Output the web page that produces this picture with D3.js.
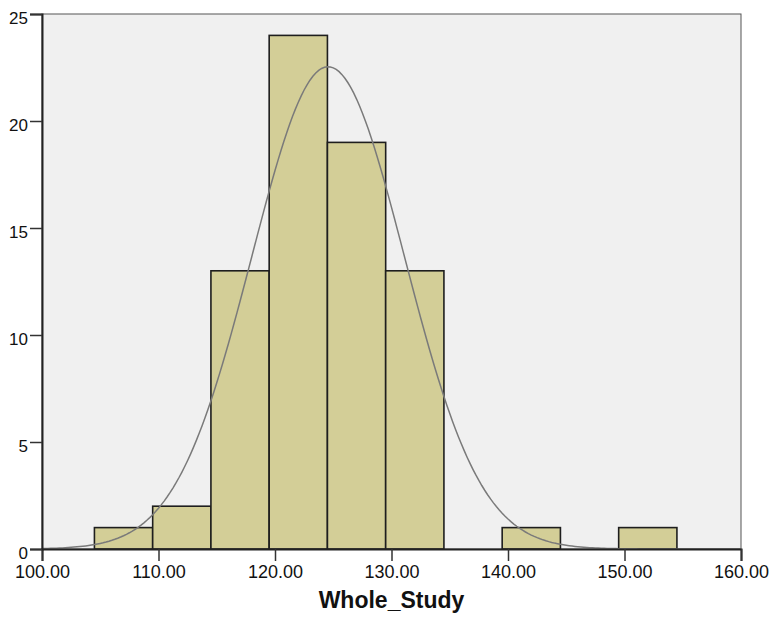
<!DOCTYPE html>
<html><head><meta charset="utf-8">
<script src="https://cdn.jsdelivr.net/npm/d3@7"></script>
<style>body{margin:0;background:#fff}svg{display:block}text{font-family:"Liberation Sans",Arial,sans-serif;fill:#111}</style>
</head><body><svg id="c" width="770" height="622"></svg>
<script>
// Histogram bins (lower edge, upper edge) and counts
const binStarts = [104.5, 109.5, 114.5, 119.5, 124.5, 129.5, 139.5, 149.5];
const binEnds   = [109.5, 114.5, 119.5, 124.5, 129.5, 134.5, 144.5, 154.5];
const counts    = [1, 2, 13, 24, 19, 13, 1, 1];
const xTicks = [100, 110, 120, 130, 140, 150, 160];
const yTicks = [0, 5, 10, 15, 20, 25];
const xLabel = "Whole_Study";
// Fitted normal curve parameters (SPSS overlay)
const fitMean = 124.56, fitSD = 6.55, fitN = 74, binWidth = 5;

const svg = d3.select("#c");
const L = 42, R = 741, T = 14, B = 549;
const x = d3.scaleLinear().domain([100, 160]).range([L, R]);
const y = d3.scaleLinear().domain([0, 25]).range([B, T]);

svg.append("rect").attr("x", L).attr("y", T).attr("width", R - L).attr("height", B - T)
  .attr("fill", "#f0f0f0").attr("stroke", "#555").attr("stroke-width", 1);

const bars = binStarts.map((s, i) => ({s, e: binEnds[i], c: counts[i]}));
svg.selectAll("rect.bar").data(bars).join("rect").attr("class", "bar")
  .attr("x", d => x(d.s)).attr("width", d => x(d.e) - x(d.s))
  .attr("y", d => y(d.c)).attr("height", d => y(0) - y(d.c))
  .attr("fill", "#d3ce97").attr("stroke", "#1e1e1e").attr("stroke-width", 1.6);

const pts = d3.range(100, 160.01, 0.25).map(v => [v, fitN * binWidth / (fitSD * Math.sqrt(2 * Math.PI)) * Math.exp(-0.5 * ((v - fitMean) / fitSD) ** 2)]);
svg.append("path").datum(pts).attr("fill", "none").attr("stroke", "#7a7a7a").attr("stroke-width", 1.5)
  .attr("d", d3.line().x(d => x(d[0])).y(d => y(d[1])));

const xa = svg.append("g").attr("transform", `translate(0,${B})`)
  .call(d3.axisBottom(x).tickValues(xTicks).tickFormat(d3.format(".2f")).tickSize(12).tickPadding(4));
xa.select(".domain").attr("stroke", "#222").attr("stroke-width", 2);
xa.selectAll(".tick line").attr("stroke", "#333").attr("stroke-width", 1.5);
xa.selectAll(".tick text").attr("font-size", 18).attr("fill", "#111").attr("font-family", "Liberation Sans, Arial, sans-serif");

const ya = svg.append("g").attr("transform", `translate(${L},0)`)
  .call(d3.axisLeft(y).tickValues(yTicks).tickSize(12).tickPadding(2));
ya.select(".domain").attr("stroke", "#222").attr("stroke-width", 2);
ya.selectAll(".tick line").attr("stroke", "#333").attr("stroke-width", 1.5);
ya.selectAll(".tick text").attr("font-size", 17).attr("fill", "#111").attr("dy", "0.55em").attr("font-family", "Liberation Sans, Arial, sans-serif");

svg.append("text").attr("x", (L + R) / 2).attr("y", 608).attr("text-anchor", "middle")
  .attr("font-size", 23).attr("font-weight", "bold").text(xLabel);
</script></body></html>
